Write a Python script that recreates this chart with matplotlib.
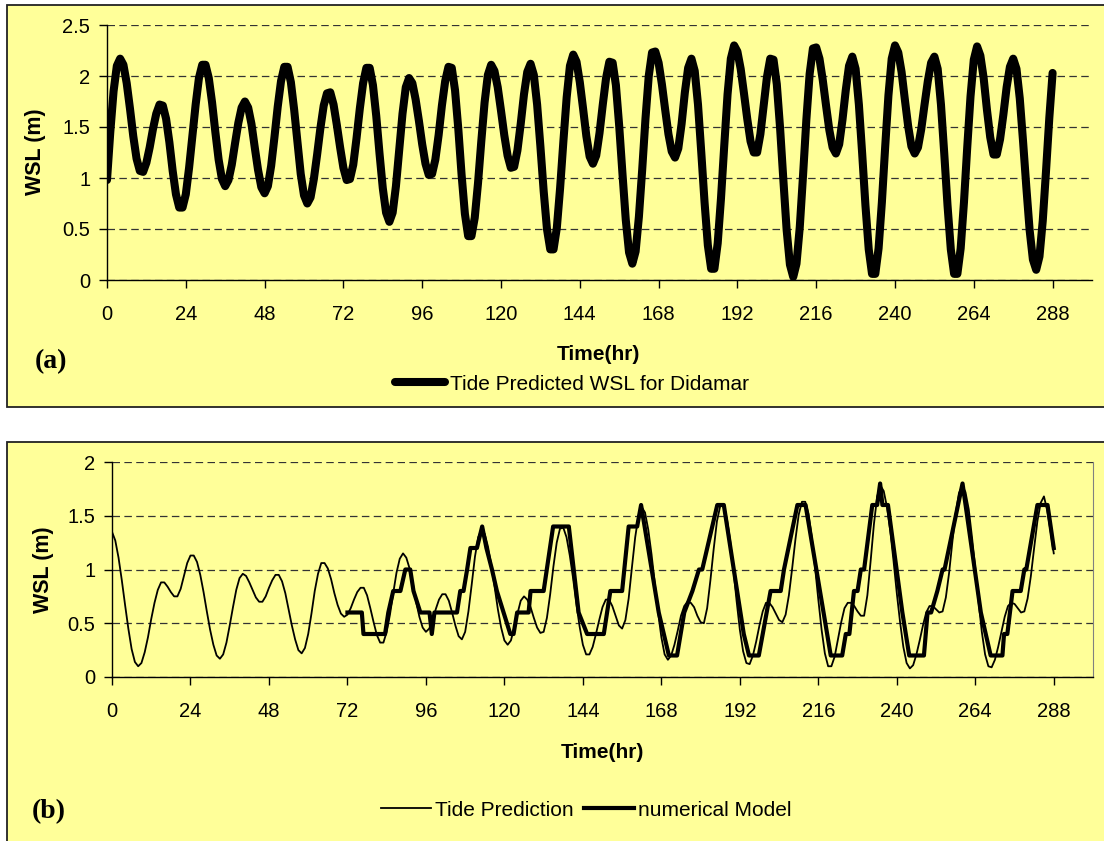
import numpy as np
import matplotlib
matplotlib.use("Agg")
import matplotlib.pyplot as plt
from matplotlib.patches import Rectangle

plt.rcParams['font.family'] = ['Liberation Sans', 'DejaVu Sans']

# (a) hourly tide predicted WSL for Didamar, t = 0..288 hr
wsl_didamar = [
    0.98, 1.45, 1.85, 2.10, 2.17, 2.11, 1.93, 1.68, 1.41, 1.19, 1.07, 1.06,
    1.15, 1.30, 1.48, 1.63, 1.72, 1.71, 1.58, 1.35, 1.07, 0.84, 0.71, 0.71,
    0.84, 1.10, 1.41, 1.72, 1.98, 2.11, 2.11, 1.98, 1.74, 1.45, 1.18, 0.99,
    0.92, 0.98, 1.13, 1.34, 1.54, 1.69, 1.75, 1.69, 1.53, 1.30, 1.08, 0.91,
    0.85, 0.92, 1.12, 1.40, 1.70, 1.95, 2.09, 2.09, 1.94, 1.67, 1.35, 1.04,
    0.83, 0.75, 0.81, 0.99, 1.23, 1.49, 1.71, 1.83, 1.84, 1.72, 1.52, 1.30,
    1.10, 0.98, 0.99, 1.13, 1.39, 1.68, 1.93, 2.08, 2.08, 1.91, 1.61, 1.24,
    0.90, 0.66, 0.57, 0.66, 0.92, 1.28, 1.63, 1.89, 1.98, 1.93, 1.77, 1.56,
    1.33, 1.14, 1.03, 1.04, 1.18, 1.42, 1.71, 1.95, 2.09, 2.08, 1.86, 1.48,
    1.03, 0.65, 0.43, 0.43, 0.61, 0.95, 1.36, 1.74, 2.01, 2.11, 2.05, 1.89,
    1.66, 1.42, 1.22, 1.10, 1.11, 1.27, 1.53, 1.82, 2.04, 2.12, 2.01, 1.72,
    1.31, 0.87, 0.50, 0.30, 0.30, 0.51, 0.90, 1.36, 1.79, 2.10, 2.21, 2.14,
    1.94, 1.68, 1.41, 1.21, 1.14, 1.22, 1.44, 1.72, 1.98, 2.14, 2.13, 1.91,
    1.51, 1.04, 0.59, 0.27, 0.16, 0.28, 0.62, 1.08, 1.58, 2.00, 2.23, 2.24,
    2.13, 1.92, 1.67, 1.43, 1.26, 1.20, 1.29, 1.53, 1.84, 2.08, 2.17, 2.05,
    1.72, 1.25, 0.76, 0.34, 0.11, 0.11, 0.36, 0.80, 1.32, 1.82, 2.17, 2.30,
    2.24, 2.07, 1.83, 1.58, 1.36, 1.25, 1.25, 1.43, 1.71, 1.99, 2.17, 2.16,
    1.92, 1.49, 0.98, 0.49, 0.15, 0.03, 0.16, 0.52, 1.03, 1.57, 2.02, 2.27,
    2.28, 2.17, 1.96, 1.71, 1.47, 1.30, 1.24, 1.33, 1.57, 1.86, 2.10, 2.19,
    2.07, 1.72, 1.24, 0.73, 0.30, 0.06, 0.06, 0.31, 0.76, 1.30, 1.81, 2.17,
    2.30, 2.23, 2.04, 1.77, 1.51, 1.31, 1.24, 1.30, 1.48, 1.72, 1.95, 2.13,
    2.19, 2.07, 1.72, 1.24, 0.73, 0.30, 0.06, 0.06, 0.31, 0.76, 1.30, 1.80,
    2.16, 2.29, 2.20, 1.98, 1.67, 1.40, 1.23, 1.23, 1.38, 1.62, 1.89, 2.09,
    2.17, 2.07, 1.78, 1.36, 0.91, 0.49, 0.20, 0.10, 0.23, 0.58, 1.07, 1.59,
    2.03,
]

# (b) hourly tide prediction at the model point, t = 0..288 hr
wsl_tide = [
    1.35, 1.27, 1.11, 0.90, 0.67, 0.45, 0.26, 0.14, 0.10, 0.13, 0.23, 0.37,
    0.54, 0.69, 0.81, 0.88, 0.88, 0.84, 0.79, 0.75, 0.75, 0.82, 0.94, 1.06,
    1.13, 1.13, 1.07, 0.95, 0.79, 0.61, 0.44, 0.30, 0.20, 0.17, 0.21, 0.32,
    0.48, 0.65, 0.81, 0.92, 0.96, 0.94, 0.88, 0.81, 0.74, 0.70, 0.70, 0.75,
    0.83, 0.90, 0.95, 0.95, 0.89, 0.78, 0.63, 0.48, 0.35, 0.25, 0.22, 0.27,
    0.40, 0.59, 0.80, 0.96, 1.06, 1.06, 1.01, 0.91, 0.78, 0.67, 0.59, 0.56,
    0.58, 0.64, 0.72, 0.79, 0.83, 0.83, 0.76, 0.64, 0.51, 0.39, 0.32, 0.32,
    0.42, 0.58, 0.78, 0.97, 1.10, 1.15, 1.11, 1.01, 0.87, 0.70, 0.56, 0.46,
    0.42, 0.45, 0.52, 0.63, 0.72, 0.77, 0.77, 0.71, 0.60, 0.48, 0.38, 0.35,
    0.42, 0.61, 0.86, 1.12, 1.30, 1.37, 1.33, 1.21, 1.04, 0.84, 0.63, 0.46,
    0.34, 0.30, 0.34, 0.46, 0.59, 0.71, 0.75, 0.72, 0.65, 0.55, 0.46, 0.41,
    0.42, 0.55, 0.77, 1.03, 1.25, 1.38, 1.39, 1.30, 1.13, 0.92, 0.68, 0.47,
    0.30, 0.21, 0.21, 0.28, 0.40, 0.53, 0.65, 0.72, 0.72, 0.66, 0.57, 0.48,
    0.45, 0.53, 0.73, 1.02, 1.30, 1.50, 1.58, 1.53, 1.37, 1.14, 0.87, 0.60,
    0.37, 0.21, 0.16, 0.20, 0.30, 0.43, 0.57, 0.66, 0.70, 0.69, 0.65, 0.57,
    0.51, 0.50, 0.64, 0.90, 1.19, 1.45, 1.59, 1.60, 1.48, 1.28, 1.01, 0.71,
    0.44, 0.24, 0.13, 0.12, 0.20, 0.33, 0.48, 0.61, 0.69, 0.69, 0.65, 0.59,
    0.53, 0.51, 0.58, 0.76, 1.01, 1.28, 1.51, 1.63, 1.63, 1.52, 1.30, 1.02,
    0.72, 0.44, 0.22, 0.10, 0.10, 0.19, 0.35, 0.51, 0.64, 0.69, 0.69, 0.66,
    0.61, 0.57, 0.57, 0.76, 1.08, 1.42, 1.68, 1.78, 1.73, 1.58, 1.36, 1.08,
    0.78, 0.51, 0.28, 0.13, 0.08, 0.11, 0.21, 0.34, 0.48, 0.60, 0.66, 0.66,
    0.63, 0.60, 0.61, 0.74, 0.97, 1.26, 1.52, 1.71, 1.78, 1.72, 1.56, 1.30,
    1.01, 0.70, 0.42, 0.21, 0.10, 0.09, 0.16, 0.28, 0.42, 0.56, 0.66, 0.69,
    0.68, 0.64, 0.60, 0.61, 0.73, 0.94, 1.20, 1.45, 1.62, 1.68, 1.55, 1.36,
    1.15,
]

# (b) numerical model output (stepped, 0.2 m resolution), vertices
model_hours = [72, 76.4, 76.9, 83.5, 84.5, 86, 88.2, 89.7, 91.2, 92.2, 94.3, 97.1,
               97.8, 98.6, 105.5, 106.5, 107.5, 108.6, 109.6, 111.6, 113.2, 114.5,
               116.2, 117.7, 121.8, 122.8, 123.9, 127.4, 128, 132, 134.9, 139.7,
               142.7, 145.3, 150.4, 152.4, 156, 158, 160.6, 161.8, 167.2, 170.3,
               172.8, 173.9, 175, 177.5, 179.5, 180.5, 185.1, 187.1, 193.2, 194.8,
               197.8, 199, 201.4, 204.5, 205.5, 209.6, 212.1, 219.8, 223.3, 224.4,
               225.5, 226.9, 228, 229, 230, 232.5, 234, 234.9, 235.6, 237.3, 241.7,
               243.8, 248.3, 249.4, 250.5, 252.4, 254, 254.6, 260.1, 265.7, 268.7,
               272.3, 272.8, 273.8, 275.4, 277.9, 279, 279.6, 283, 286.1, 288]
model_wsl = [0.6, 0.6, 0.4, 0.4, 0.6, 0.8, 0.8, 1.0, 1.0, 0.8, 0.6, 0.6,
             0.4, 0.6, 0.6, 0.8, 0.8, 1.0, 1.2, 1.2, 1.4, 1.2,
             1.0, 0.8, 0.4, 0.4, 0.6, 0.6, 0.8, 0.8, 1.4, 1.4,
             0.6, 0.4, 0.4, 0.8, 0.8, 1.4, 1.4, 1.6, 0.6, 0.2,
             0.2, 0.4, 0.6, 0.8, 1.0, 1.0, 1.6, 1.6, 0.4, 0.2,
             0.2, 0.4, 0.8, 0.8, 1.0, 1.6, 1.6, 0.2, 0.2, 0.4,
             0.4, 0.8, 0.8, 1.0, 1.0, 1.6, 1.6, 1.8, 1.6, 1.6, 0.6,
             0.2, 0.2, 0.6, 0.6, 0.8, 1.0, 1.0, 1.8, 0.6, 0.2,
             0.2, 0.4, 0.4, 0.8, 0.8, 1.0, 1.0, 1.6, 1.6, 1.2]

x_ticks = list(range(0, 289, 24))
yticks_a = [0, 0.5, 1, 1.5, 2, 2.5]
yticks_b = [0, 0.5, 1, 1.5, 2]

W, H = 1104, 841
YELLOW = '#FFFF99'


def fx(x):
    return x / W


def fy(y):
    return 1 - y / H


fig = plt.figure(figsize=(W / 100, H / 100), dpi=100)

# panel boxes (kept behind the axes)
fig.patches.append(Rectangle((fx(7), fy(407)), 1.2, (407 - 5) / H, transform=fig.transFigure,
                             facecolor=YELLOW, edgecolor='#222222', lw=1.3, zorder=-10))
fig.patches.append(Rectangle((fx(7), -0.1), 1.2, fy(442) + 0.1, transform=fig.transFigure,
                             facecolor=YELLOW, edgecolor='#222222', lw=1.3, zorder=-10))

ax1 = fig.add_axes([fx(107), fy(280), (1092 - 107) / W, (280 - 25) / H])
ax2 = fig.add_axes([fx(112), fy(677), (1093 - 112) / W, (677 - 462) / H])

hours = np.arange(len(wsl_didamar))
hours_b = np.arange(len(wsl_tide))

l1, = ax1.plot(hours, wsl_didamar, color='black', lw=5.8, solid_capstyle='round',
               solid_joinstyle='round', label='Tide Predicted WSL for Didamar')
l2, = ax2.plot(hours_b, wsl_tide, color='black', lw=1.3, label='Tide Prediction')
l3, = ax2.plot(model_hours, model_wsl, color='black', lw=3.0, solid_joinstyle='round',
               label='numerical Model')

for ax, yt, top in [(ax1, yticks_a, 2.5), (ax2, yticks_b, 2.0)]:
    ax.set_facecolor('none')
    ax.set_xlim(0, 300)
    ax.set_ylim(0, top)
    ax.set_xticks(x_ticks)
    ax.set_yticks(yt)
    ax.set_yticklabels([('%g' % v) for v in yt])
    ax.yaxis.grid(True, linestyle=(0, (6, 3.5)), color='#333333', lw=0.9)
    ax.set_axisbelow(True)
    ax.spines['top'].set_visible(False)
    ax.spines['left'].set_linewidth(1.0)
    ax.spines['bottom'].set_linewidth(1.0)
    ax.tick_params(axis='x', direction='out', length=6, width=1, labelsize=14.5, pad=12)
    ax.tick_params(axis='y', direction='out', length=6, width=1, labelsize=14.5, pad=6)

ax1.spines['right'].set_visible(False)
ax2.spines['right'].set_color('#808080')

# axis titles
fig.text(fx(598), fy(355), 'Time(hr)', ha='center', va='center', fontsize=15, fontweight='bold')
fig.text(fx(602), fy(753), 'Time(hr)', ha='center', va='center', fontsize=15, fontweight='bold')
fig.text(fx(35), fy(152), 'WSL (m)', ha='center', va='center', rotation=90, fontsize=15.5,
         fontweight='bold')
fig.text(fx(43), fy(570), 'WSL (m)', ha='center', va='center', rotation=90, fontsize=15.5,
         fontweight='bold')
fig.text(fx(51), fy(362), '(a)', ha='center', va='center', fontsize=20, fontweight='bold',
         family=['Liberation Serif', 'DejaVu Serif'])
fig.text(fx(49), fy(812), '(b)', ha='center', va='center', fontsize=20, fontweight='bold',
         family=['Liberation Serif', 'DejaVu Serif'])

fig.legend(handles=[l1], loc='center', bbox_to_anchor=(fx(572), fy(384)), frameon=False,
           fontsize=15, handlelength=2.4, handletextpad=0.2, borderaxespad=0)
fig.legend(handles=[l2, l3], loc='center', bbox_to_anchor=(fx(586), fy(810)), frameon=False,
           fontsize=15, ncol=2, handlelength=2.4, handletextpad=0.2, columnspacing=0.5,
           borderaxespad=0)

fig.savefig('out.png', dpi=100)
